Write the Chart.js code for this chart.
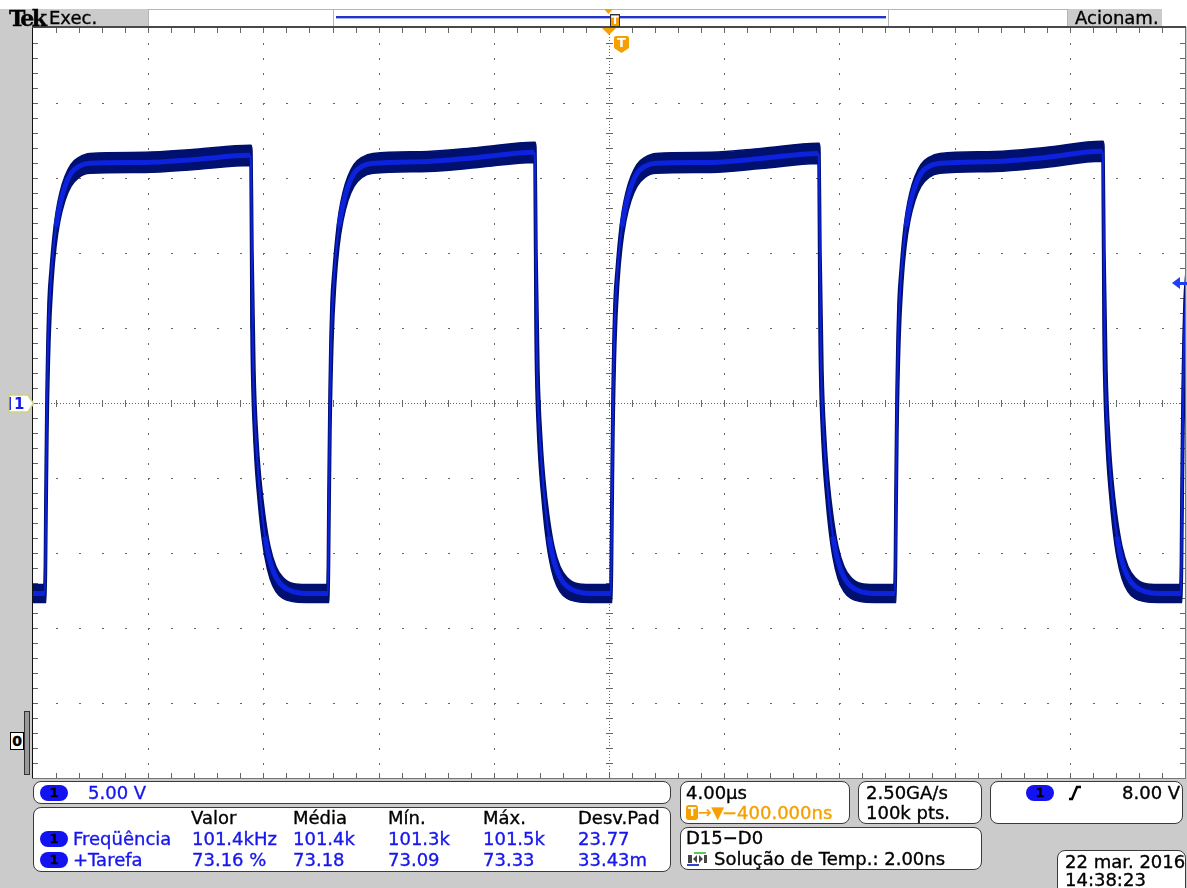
<!DOCTYPE html>
<html lang="pt">
<head>
<meta charset="utf-8">
<title>Tek – Canal 1</title>
<script src="https://cdn.jsdelivr.net/npm/chart.js@4.4.1/dist/chart.umd.min.js"></script>
<style>
  html, body { margin:0; padding:0; }
  body { width:1187px; height:888px; position:relative; overflow:hidden; background:#cbcbcb;
         font-family:"DejaVu Sans", sans-serif; font-size:18px; color:#000; }
  .abs { position:absolute; white-space:nowrap; line-height:20px; }
  .ov { z-index:2; -webkit-text-stroke:0.35px currentColor; }
  .box { position:absolute; box-sizing:border-box; background:#fff; border:1.5px solid #3a3a3a; border-radius:8px; }
  .hdr { position:absolute; box-sizing:border-box; background:#fff; border:1px solid #b5b5b5; }
  .blue { color:#1717ec; }
  .orange { color:#f5a000; }
  .pill { position:absolute; width:28px; height:16px; border-radius:8px; background:#1313f2;
          color:#000; font:bold 13px/16px "DejaVu Sans", sans-serif; text-align:center; }
  #scope { position:absolute; left:0; top:0; z-index:1; }
</style>
</head>
<body>
<!-- barra superior -->
<div class="abs" style="left:0;top:0;width:1187px;height:9px;background:#fff"></div>
<div class="abs ov" style="left:9px;top:8px;font:bold 22px/20px 'DejaVu Serif',serif;letter-spacing:-2.5px">Tek</div>
<div class="abs ov" style="left:49px;top:8px">Exec.</div>
<div class="hdr" style="left:148px;top:9px;width:186px;height:18px"></div>
<div class="hdr" style="left:333px;top:9px;width:556px;height:18px"></div>
<div class="abs" style="left:336px;top:16px;width:550px;height:2px;background:#2233cc"></div>
<div class="abs" style="left:336px;top:18px;width:550px;height:1px;background:#aab0e8"></div>
<div class="hdr" style="left:888px;top:9px;width:180px;height:18px"></div>
<div class="abs" style="left:1162px;top:9px;width:25px;height:18px;background:#fff"></div>
<div class="abs ov" style="left:1075px;top:8px">Acionam.</div>

<canvas id="scope" width="1187" height="888"></canvas>

<!-- marcadores à esquerda -->
<svg id="ch1mark" class="abs ov" style="left:8px;top:394px;-webkit-text-stroke:0" width="27" height="19">
  <polygon points="1,1 20,1 25.5,9.5 20,18 1,18" fill="#fff" stroke="#cfcf86" stroke-width="1.5"/>
  <rect x="1.5" y="3" width="1.5" height="13" fill="#1a2af0"/>
  <text x="6" y="15" font-family="DejaVu Sans" font-weight="bold" font-size="15" fill="#1a1aee">1</text>
</svg>
<div class="abs ov" style="left:10px;top:732px;width:12px;height:16px;border:1.5px solid #000;background:#fff;font:bold 14px/16px 'DejaVu Sans';text-align:center">0</div>
<div class="abs" style="z-index:2;left:24px;top:711px;width:4px;height:62px;background:#9a9a9a;border:1px solid #333"></div>

<!-- painel inferior -->
<div class="box" style="left:33px;top:781px;width:638px;height:23px"></div>
<div class="pill ov" style="left:40px;top:785px">1</div>
<div class="abs ov blue" style="left:88px;top:783px">5.00 V</div>

<div class="box" style="left:33px;top:807px;width:638px;height:65px"></div>
<div class="abs ov" style="left:191px;top:808px">Valor</div>
<div class="abs ov" style="left:293px;top:808px">Média</div>
<div class="abs ov" style="left:388px;top:808px">Mín.</div>
<div class="abs ov" style="left:483px;top:808px">Máx.</div>
<div class="abs ov" style="left:578px;top:808px">Desv.Pad</div>
<div class="pill ov" style="left:40px;top:831px">1</div>
<div class="abs ov blue" style="left:73px;top:829px">Freqüência</div>
<div class="abs ov blue" style="left:192px;top:829px">101.4kHz</div>
<div class="abs ov blue" style="left:293px;top:829px">101.4k</div>
<div class="abs ov blue" style="left:388px;top:829px">101.3k</div>
<div class="abs ov blue" style="left:483px;top:829px">101.5k</div>
<div class="abs ov blue" style="left:578px;top:829px">23.77</div>
<div class="pill ov" style="left:40px;top:852px">1</div>
<div class="abs ov blue" style="left:73px;top:850px">+Tarefa</div>
<div class="abs ov blue" style="left:192px;top:850px">73.16 %</div>
<div class="abs ov blue" style="left:293px;top:850px">73.18</div>
<div class="abs ov blue" style="left:388px;top:850px">73.09</div>
<div class="abs ov blue" style="left:483px;top:850px">73.33</div>
<div class="abs ov blue" style="left:578px;top:850px">33.43m</div>

<div class="box" style="left:680px;top:781px;width:170px;height:43px"></div>
<div class="abs ov" style="left:686px;top:783px">4.00µs</div>
<div class="abs ov" style="left:686px;top:805px;width:12px;height:15px;background:#f5a000;border-radius:3px;color:#fff;font:bold 12px/15px 'DejaVu Sans';text-align:center;-webkit-text-stroke:0">T</div>
<div class="abs ov orange" style="left:698px;top:803px;font-size:16px">→▼</div>
<div class="abs ov orange" style="left:722px;top:803px">−400.000ns</div>

<div class="box" style="left:858px;top:781px;width:124px;height:43px"></div>
<div class="abs ov" style="left:866px;top:783px">2.50GA/s</div>
<div class="abs ov" style="left:866px;top:803px">100k pts.</div>

<div class="box" style="left:990px;top:781px;width:193px;height:43px"></div>
<div class="pill ov" style="left:1026px;top:785px">1</div>
<svg class="abs" style="z-index:2;left:1068px;top:785px" width="14" height="16">
  <path d="M1,14 L4,14 L9,2 L13,2" fill="none" stroke="#000" stroke-width="2.4"/>
</svg>
<div class="abs ov" style="left:1122px;top:783px">8.00 V</div>

<div class="box" style="left:680px;top:827px;width:302px;height:43px"></div>
<div class="abs ov" style="left:686px;top:828px">D15−D0</div>
<svg class="abs" style="z-index:2;left:686px;top:851px" width="22" height="16">
  <rect x="8" y="1" width="12" height="2" fill="#5cc85c"/>
  <rect x="1" y="13" width="12" height="2" fill="#3344cc"/>
  <rect x="2" y="4" width="4" height="8" fill="#444"/>
  <polygon points="7,8 11,4 11,12" fill="#444"/>
  <polygon points="17,8 13,4 13,12" fill="#444"/>
  <rect x="18" y="4" width="3" height="8" fill="#444"/>
</svg>
<div class="abs ov" style="left:714px;top:849px">Solução de Temp.: 2.00ns</div>

<div class="box" style="left:1057px;top:850px;width:129px;height:50px"></div>
<div class="abs ov" style="left:1065px;top:852px">22 mar. 2016</div>
<div class="abs ov" style="left:1065px;top:870px">14:38:23</div>

<script>
// Canal 1: tempo (µs) e tensão (V) — envoltória superior, traço central, envoltória inferior
const timeUs = [
  -20.000,
  -19.618, -19.583, -19.549, -19.514, -19.479, -19.410, -19.306, -19.201, -19.063, -18.889, -18.681, -18.403, -18.021,
  -16.111, -14.375,
  -12.465, -12.431, -12.396, -12.361, -12.292, -12.188, -12.083, -11.944, -11.771, -11.563, -11.319, -10.972, -10.521,
  -9.792, -9.757, -9.722, -9.688, -9.653, -9.583, -9.479, -9.375, -9.236, -9.063, -8.854, -8.576, -8.194,
  -6.285, -4.549,
  -2.604, -2.569, -2.535, -2.500, -2.431, -2.326, -2.222, -2.083, -1.910, -1.701, -1.458, -1.111, -0.660,
  0.035, 0.069, 0.104, 0.139, 0.174, 0.243, 0.347, 0.451, 0.590, 0.764, 0.972, 1.250, 1.632,
  3.542, 5.278,
  7.257, 7.292, 7.326, 7.361, 7.431, 7.535, 7.639, 7.778, 7.951, 8.160, 8.403, 8.750, 9.201,
  9.896, 9.931, 9.965, 10.000, 10.035, 10.104, 10.208, 10.313, 10.451, 10.625, 10.833, 11.111, 11.493,
  13.403, 15.139,
  17.118, 17.153, 17.188, 17.222, 17.292, 17.396, 17.500, 17.639, 17.813, 18.021, 18.264, 18.611, 19.063,
  19.826, 19.861, 19.896, 19.931, 19.965, 20.035
];
const upperV = [
  -12.10,
  -12.10, -5.21, 0.80, 4.48, 6.82, 8.82, 11.10, 12.70, 14.04, 15.11, 15.91, 16.38, 16.64,
  16.71, 16.91,
  17.18, 17.18, 16.84, 10.16, 2.14, -2.54, -5.21, -7.55, -9.56, -10.90, -11.63, -12.03, -12.10,
  -12.10, -5.21, 0.80, 4.48, 6.82, 8.82, 11.10, 12.70, 14.04, 15.11, 15.91, 16.38, 16.64,
  16.77, 17.04,
  17.38, 17.38, 17.04, 10.16, 2.14, -2.54, -5.21, -7.55, -9.56, -10.90, -11.63, -12.03, -12.10,
  -12.10, -5.21, 0.80, 4.48, 6.82, 8.82, 11.10, 12.70, 14.04, 15.11, 15.91, 16.38, 16.64,
  16.71, 16.97,
  17.31, 17.31, 16.97, 10.16, 2.14, -2.54, -5.21, -7.55, -9.56, -10.90, -11.63, -12.03, -12.10,
  -12.10, -5.21, 0.80, 4.48, 6.82, 8.82, 11.10, 12.70, 14.04, 15.11, 15.91, 16.38, 16.64,
  16.77, 17.04,
  17.45, 17.45, 17.11, 10.16, 2.14, -2.54, -5.21, -7.55, -9.56, -10.90, -11.63, -12.03, -12.10,
  -12.10, -5.21, 0.80, 4.48, 6.82, 8.82
];
const midV = [
  -12.70,
  -12.70, -12.70, -6.55, 0.13, 3.81, 7.29, 10.03, 11.76, 13.24, 14.44, 15.31, 15.78, 15.98,
  16.04, 16.24,
  16.51, 15.84, 9.49, 2.81, -1.20, -4.41, -6.75, -8.89, -10.56, -11.63, -12.23, -12.57, -12.70,
  -12.70, -12.70, -6.55, 0.13, 3.81, 7.29, 10.03, 11.76, 13.24, 14.44, 15.31, 15.78, 15.98,
  16.10, 16.37,
  16.71, 16.04, 9.49, 2.81, -1.20, -4.41, -6.75, -8.89, -10.56, -11.63, -12.23, -12.57, -12.70,
  -12.70, -12.70, -6.55, 0.13, 3.81, 7.29, 10.03, 11.76, 13.24, 14.44, 15.31, 15.78, 15.98,
  16.04, 16.30,
  16.64, 15.97, 9.49, 2.81, -1.20, -4.41, -6.75, -8.89, -10.56, -11.63, -12.23, -12.57, -12.70,
  -12.70, -12.70, -6.55, 0.13, 3.81, 7.29, 10.03, 11.76, 13.24, 14.44, 15.31, 15.78, 15.98,
  16.10, 16.37,
  16.78, 16.11, 9.49, 2.81, -1.20, -4.41, -6.75, -8.89, -10.56, -11.63, -12.23, -12.57, -12.70,
  -12.70, -12.70, -6.55, 0.13, 3.81, 7.29
];
const lowerV = [
  -13.30,
  -13.30, -13.30, -13.30, -7.89, -1.87, 4.14, 8.16, 10.43, 12.17, 13.50, 14.44, 15.04, 15.31,
  15.37, 15.57,
  15.84, 4.81, 0.80, -1.20, -3.88, -6.42, -8.42, -10.29, -11.70, -12.57, -13.03, -13.24, -13.30,
  -13.30, -13.30, -13.30, -7.89, -1.87, 4.14, 8.16, 10.43, 12.17, 13.50, 14.44, 15.04, 15.31,
  15.43, 15.70,
  16.04, 4.81, 0.80, -1.20, -3.88, -6.42, -8.42, -10.29, -11.70, -12.57, -13.03, -13.24, -13.30,
  -13.30, -13.30, -13.30, -7.89, -1.87, 4.14, 8.16, 10.43, 12.17, 13.50, 14.44, 15.04, 15.31,
  15.37, 15.63,
  15.97, 4.81, 0.80, -1.20, -3.88, -6.42, -8.42, -10.29, -11.70, -12.57, -13.03, -13.24, -13.30,
  -13.30, -13.30, -13.30, -7.89, -1.87, 4.14, 8.16, 10.43, 12.17, 13.50, 14.44, 15.04, 15.31,
  15.43, 15.70,
  16.11, 4.81, 0.80, -1.20, -3.88, -6.42, -8.42, -10.29, -11.70, -12.57, -13.03, -13.24, -13.30,
  -13.30, -13.30, -13.30, -7.89, -1.87, 4.14
];

// Escalas do ecrã
const timePerDivUs = 4;      // 4.00 µs/div
const voltsPerDiv = 5;       // 5.00 V/div
const horizDivs = 10;
const vertDivs = 10;
const triggerTimeUs = 0;
const triggerLevelV = 8;     // 8.00 V
const ch1OffsetV = 0;

const NAVY = '#00106e';
const CORE = '#0c22dc';
const ORANGE = '#f5a000';

const pts = arr => timeUs.map((t, i) => ({ x: t, y: arr[i] }));

// Retícula: pontos nas divisões, cruz central e marcas na moldura
const graticule = {
  id: 'graticule',
  beforeDatasetsDraw(chart) {
    const { ctx, chartArea: a, scales: { x, y } } = chart;
    ctx.save();
    ctx.fillStyle = '#ffffff';
    ctx.fillRect(a.left, a.top, a.right - a.left, a.bottom - a.top);
    ctx.fillStyle = '#666666';
    const minorT = timePerDivUs / 5, minorV = voltsPerDiv / 5;
    const nT = horizDivs * 5, nV = vertDivs * 5;
    const px = i => Math.round(x.getPixelForValue(x.min + i * minorT));
    const py = j => Math.round(y.getPixelForValue(y.min + j * minorV));
    for (let d = 1; d < horizDivs; d++) {
      if (d === horizDivs / 2) continue;
      const X = px(d * 5);
      for (let j = 1; j < nV; j++) ctx.fillRect(X, py(j), 1, 2);
    }
    for (let d = 1; d < vertDivs; d++) {
      if (d === vertDivs / 2) continue;
      const Y = py(d * 5);
      for (let i = 1; i < nT; i++) ctx.fillRect(px(i), Y, 2, 1);
    }
    const cx = px(nT / 2), cy = py(nV / 2);
    for (let Y = a.top; Y < a.bottom; Y += 3) ctx.fillRect(cx, Y, 1, 1);
    for (let X = a.left; X < a.right; X += 3) ctx.fillRect(X, cy, 1, 1);
    for (let j = 1; j < nV; j++) ctx.fillRect(cx - 3, py(j), 7, 1);
    for (let i = 1; i < nT; i++) ctx.fillRect(px(i), cy - 3, 1, 7);
    for (let i = 1; i < nT; i++) {
      ctx.fillRect(px(i), a.top, 1, 5);
      ctx.fillRect(px(i), a.bottom - 5, 1, 5);
    }
    for (let j = 1; j < nV; j++) {
      ctx.fillRect(a.left, py(j), 5, 1);
      ctx.fillRect(a.right - 5, py(j), 5, 1);
    }
    ctx.restore();
  }
};

// Moldura, marcador de disparo e nível de disparo
const frameAndMarkers = {
  id: 'frameAndMarkers',
  afterDraw(chart) {
    const { ctx, chartArea: a, scales: { x, y } } = chart;
    ctx.save();
    ctx.fillStyle = '#4a4a4a';
    ctx.fillRect(a.left - 1, a.top - 2, a.right - a.left + 2, 2);
    ctx.fillStyle = '#111111';
    ctx.fillRect(a.left - 1, a.top, 1, a.bottom - a.top);
    ctx.fillStyle = '#777777';
    ctx.fillRect(a.right, a.top, 1, a.bottom - a.top);
    ctx.fillRect(a.left - 1, a.bottom, a.right - a.left + 2, 1);

    const tx = Math.round(x.getPixelForValue(triggerTimeUs));
    // na barra superior
    ctx.fillStyle = ORANGE;
    ctx.beginPath(); ctx.moveTo(tx - 5, 9); ctx.lineTo(tx + 4, 9); ctx.lineTo(tx - 0.5, 14); ctx.closePath(); ctx.fill();
    ctx.fillRect(tx + 1, 14, 10, 13);
    ctx.strokeStyle = '#333'; ctx.lineWidth = 1;
    ctx.strokeRect(tx + 1.5, 14.5, 9, 12);
    ctx.fillStyle = '#fff';
    ctx.font = 'bold 11px "DejaVu Sans"'; ctx.textAlign = 'center'; ctx.textBaseline = 'middle';
    ctx.fillText('T', tx + 6, 21);
    // abaixo da moldura
    ctx.fillStyle = ORANGE;
    ctx.beginPath(); ctx.moveTo(tx - 7, a.top); ctx.lineTo(tx + 7, a.top); ctx.lineTo(tx, a.top + 7); ctx.closePath(); ctx.fill();
    const sx = tx + 5, sy = a.top + 8;
    ctx.beginPath();
    ctx.moveTo(sx + 2, sy); ctx.lineTo(sx + 13, sy);
    ctx.quadraticCurveTo(sx + 15, sy, sx + 15, sy + 2);
    ctx.lineTo(sx + 15, sy + 12); ctx.lineTo(sx + 7.5, sy + 17); ctx.lineTo(sx, sy + 12);
    ctx.lineTo(sx, sy + 2); ctx.quadraticCurveTo(sx, sy, sx + 2, sy);
    ctx.closePath(); ctx.fill();
    ctx.fillStyle = '#fff';
    ctx.font = 'bold 13px "DejaVu Sans"';
    ctx.fillText('T', sx + 7.5, sy + 7.5);

    // nível de disparo (seta à direita)
    const ly = Math.round(y.getPixelForValue(triggerLevelV));
    ctx.fillStyle = '#2040f0';
    ctx.beginPath(); ctx.moveTo(1172, ly); ctx.lineTo(1180, ly - 6); ctx.lineTo(1180, ly + 6); ctx.closePath(); ctx.fill();
    ctx.fillRect(1179, ly - 1, 8, 3);
    ctx.restore();
  }
};

const monotone = 'monotone';
const chart = new Chart(document.getElementById('scope'), {
  type: 'line',
  data: {
    datasets: [
      {
        label: 'CH1', data: pts(midV), borderColor: CORE, borderWidth: 5,
        cubicInterpolationMode: monotone, fill: false, order: 0,
        segment: {
          borderWidth: c => {
            const dx = Math.abs(c.p1.x - c.p0.x), dy = Math.abs(c.p1.y - c.p0.y);
            return dy > 6 * dx ? 2 : 5;
          }
        }
      },
      {
        label: 'CH1 máx', data: pts(upperV), borderColor: NAVY, borderWidth: 1.5,
        backgroundColor: NAVY, fill: '+1', cubicInterpolationMode: monotone, order: 1
      },
      {
        label: 'CH1 mín', data: pts(lowerV), borderColor: NAVY, borderWidth: 1.5,
        fill: false, cubicInterpolationMode: monotone, order: 2
      }
    ]
  },
  options: {
    responsive: false,
    devicePixelRatio: 1,
    animation: false,
    layout: { padding: { left: 33, top: 28, right: 2, bottom: 110 } },
    elements: { point: { radius: 0, hoverRadius: 0 } },
    scales: {
      x: { type: 'linear', min: -horizDivs / 2 * timePerDivUs, max: horizDivs / 2 * timePerDivUs, display: false },
      y: { type: 'linear', min: -vertDivs / 2 * voltsPerDiv, max: vertDivs / 2 * voltsPerDiv, display: false }
    },
    plugins: { legend: { display: false }, tooltip: { enabled: false } },
    events: []
  },
  plugins: [graticule, frameAndMarkers]
});

// posição do marcador do canal 1 (referência 0 V)
document.getElementById('ch1mark').style.top =
  (chart.scales.y.getPixelForValue(ch1OffsetV) - 9.5) + 'px';
</script>
</body>
</html>
